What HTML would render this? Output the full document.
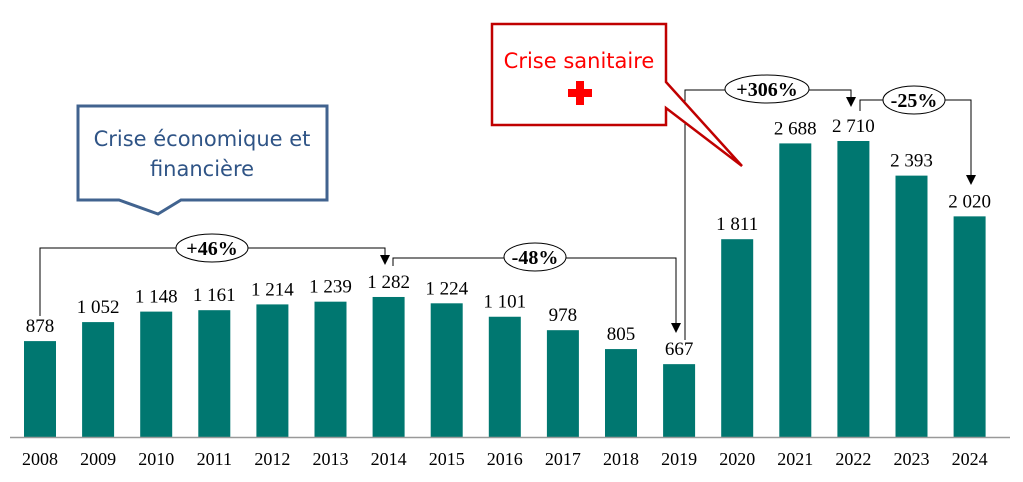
<!DOCTYPE html>
<html><head><meta charset="utf-8"><style>
body{margin:0;background:#fff;}
svg text{font-family:"Liberation Serif",serif;}
</style></head><body>
<svg id="chart" width="1023" height="477" viewBox="0 0 1023 477" xmlns="http://www.w3.org/2000/svg">
<defs><marker id="arr" viewBox="0 0 10 10" refX="9" refY="5" markerWidth="10" markerHeight="10" markerUnits="userSpaceOnUse" orient="auto"><path d="M0,0 L10,5 L0,10 z" fill="#000"/></marker></defs>
<g id="bars"></g>
<line x1="10" y1="437.5" x2="1010" y2="437.5" stroke="#999" stroke-width="1.5"/>
<g id="brackets" fill="none" stroke="#000" stroke-width="1">
<path d="M40,316 V248 H385 V264" marker-end="url(#arr)"/>
<path d="M393,266 V258 H676 V332" marker-end="url(#arr)"/>
<path d="M685,340 V90 H851 V106" marker-end="url(#arr)"/>
<path d="M860,111 V100 H971 V184" marker-end="url(#arr)"/>
</g>
<g font-weight="bold" font-size="20" text-anchor="middle">
<g><ellipse cx="212" cy="248" rx="36" ry="14" fill="#fff" stroke="#000"/><text x="212" y="255">+46%</text></g>
<g><ellipse cx="535" cy="257" rx="31" ry="14" fill="#fff" stroke="#000"/><text x="535" y="264">-48%</text></g>
<g><ellipse cx="767" cy="89" rx="42" ry="14" fill="#fff" stroke="#000"/><text x="767" y="96">+306%</text></g>
<g><ellipse cx="914" cy="100" rx="31" ry="14" fill="#fff" stroke="#000"/><text x="914" y="107">-25%</text></g>
</g>
<g>
<path d="M78,106 H327 V200 H181 L158,214 L119,200 H78 Z" fill="#fff" stroke="#41638f" stroke-width="3"/>
<text x="202" y="146" text-anchor="middle" font-size="21" fill="#2f5486" style="font-family:'DejaVu Sans','Liberation Sans',sans-serif">Crise économique et</text>
<text x="202" y="176" text-anchor="middle" font-size="21" fill="#2f5486" style="font-family:'DejaVu Sans','Liberation Sans',sans-serif">financière</text>
</g>
<g>
<path d="M492,24 H666 V82 L742,166 L666,108 V125 H492 Z" fill="#fff" stroke="#c00000" stroke-width="2.5"/>
<text x="579" y="68" text-anchor="middle" font-size="21" fill="#ff0000" style="font-family:'DejaVu Sans','Liberation Sans',sans-serif">Crise sanitaire</text>
<path d="M576,81 h8 v8 h8 v8 h-8 v8 h-8 v-8 h-8 v-8 h8 z" fill="#ff0000"/>
</g>
</svg>
<script>
const years=["2008","2009","2010","2011","2012","2013","2014","2015","2016","2017","2018","2019","2020","2021","2022","2023","2024"];
const values=[878,1052,1148,1161,1214,1239,1282,1224,1101,978,805,667,1811,2688,2710,2393,2020];
const valueLabels=["878","1 052","1 148","1 161","1 214","1 239","1 282","1 224","1 101","978","805","667","1 811","2 688","2 710","2 393","2 020"];
const NS="http://www.w3.org/2000/svg";
const base=437,scale=296/2710,x0=40,step=58.1,bw=32;
const xPos=i=>x0+i*step;
const yPos=v=>base-v*scale;
const g=document.getElementById('bars');
years.forEach((yr,i)=>{
  const r=document.createElementNS(NS,'rect');
  r.setAttribute('x',xPos(i)-bw/2);r.setAttribute('y',yPos(values[i]));
  r.setAttribute('width',bw);r.setAttribute('height',base-yPos(values[i]));
  r.setAttribute('fill','#007770');
  
  
  g.appendChild(r);
  const t=document.createElementNS(NS,'text');
  t.setAttribute('x',xPos(i));t.setAttribute('y',yPos(values[i])-9);
  t.setAttribute('text-anchor','middle');t.setAttribute('font-size','19');
  t.textContent=valueLabels[i];
  
  
  g.appendChild(t);
  const a=document.createElementNS(NS,'text');
  a.setAttribute('x',xPos(i));a.setAttribute('y',465);
  a.setAttribute('text-anchor','middle');a.setAttribute('font-size','18');
  a.textContent=yr;
  
  
  g.appendChild(a);
});
</script>
</body></html>
